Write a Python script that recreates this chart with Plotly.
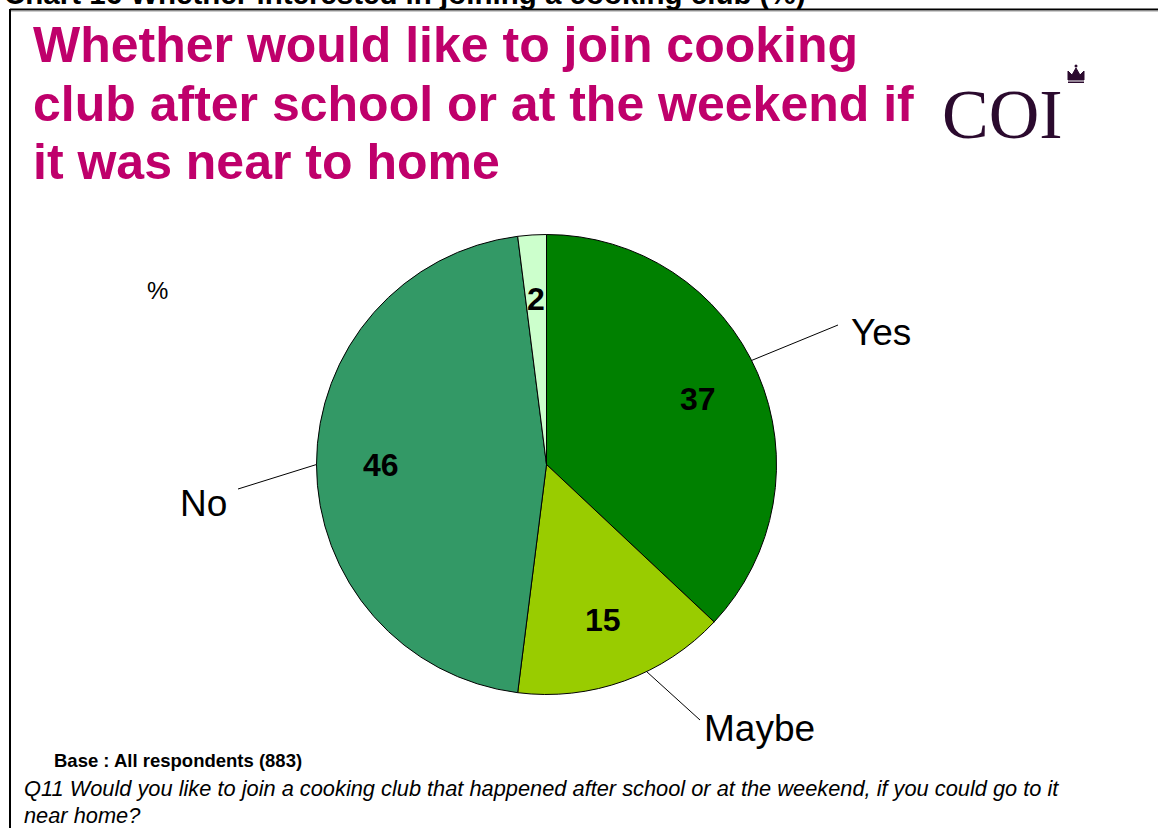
import math
import plotly.graph_objects as go

# Survey answers (percent of all respondents)
answers = ["Yes", "Maybe", "No", "Don't know"]
shares = [37, 15, 46, 2]
slice_colors = ["#008000", "#99CC00", "#339966", "#CCFFCC"]
outside_labels = ["Yes", "Maybe", "No", None]

header = "Chart 16 Whether interested in joining a cooking club (%)"
title_lines = [
    "Whether would like to join cooking",
    "club after school or at the weekend if",
    "it was near to home",
]
base_note = "Base : All respondents (883)"
question_lines = [
    "Q11 Would you like to join a cooking club that happened after school "
    "or at the weekend, if you could go to it",
    "near home?",
]

W, H = 1158, 828
CX, CY, R = 546.5, 464.5, 230.0  # pie centre / radius in pixels


def px(x):
    return x / W


def py(y):
    return 1 - y / H


def polar(frac_angle, r):
    """Pixel point at a clockwise-from-top fraction of the circle."""
    a = 2 * math.pi * frac_angle
    return CX + r * math.sin(a), CY - r * math.cos(a)


FONT = "Liberation Sans, Arial"

fig = go.Figure()
fig.add_trace(go.Pie(
    labels=answers,
    values=shares,
    sort=False,
    direction="clockwise",
    rotation=0,
    marker=dict(colors=slice_colors, line=dict(color="#000000", width=1)),
    textinfo="none",
    hoverinfo="label+value",
    showlegend=False,
    domain=dict(x=[px(CX - R), px(CX + R)], y=[py(CY + R), py(CY - R)]),
))

annotations = []
shapes = []

# leader-line end (pixel), label anchor (pixel), anchor side, angular nudge (degrees)
label_layout = {
    "Yes": (838, 325, 849, 332, "left", -3.5),
    "Maybe": (700, 720, 702, 728, "left", -6.0),
    "No": (238, 489, 229, 503, "right", 0.0),
}

total = sum(shares)
cum = 0
for name, val, lab in zip(answers, shares, outside_labels):
    mid = (cum + val / 2) / total
    cum += val
    tx, ty = polar(mid, 0.72 * R)
    annotations.append(dict(
        x=px(tx), y=py(ty), xref="paper", yref="paper", text=f"<b>{val}</b>",
        showarrow=False, font=dict(family=FONT, size=32, color="#000000"),
        xanchor="center", yanchor="middle"))
    if lab:
        lx, ly, tx2, ty2, anc, nudge = label_layout[lab]
        ex, ey = polar(mid + nudge / 360.0, R)
        shapes.append(dict(type="line", xref="paper", yref="paper",
                           x0=px(ex), y0=py(ey), x1=px(lx), y1=py(ly),
                           line=dict(color="#000000", width=1)))
        annotations.append(dict(
            x=px(tx2), y=py(ty2), xref="paper", yref="paper", text=lab,
            showarrow=False, font=dict(family=FONT, size=37, color="#000000"),
            xanchor=anc, yanchor="middle"))

# header line running off the top of the page
annotations.append(dict(
    x=px(2), y=py(12.5), xref="paper", yref="paper", text=f"<b>{header}</b>",
    showarrow=False, font=dict(family=FONT, size=29.5, color="#000000"),
    xanchor="left", yanchor="bottom"))

# main title
for i, line in enumerate(title_lines):
    annotations.append(dict(
        x=px(31), y=py(45 + i * 58.5), xref="paper", yref="paper", text=f"<b>{line}</b>",
        showarrow=False, font=dict(family=FONT, size=50, color="#BF006B"),
        xanchor="left", yanchor="middle"))

# COI logo word
annotations.append(dict(
    x=px(1002), y=py(115), xref="paper", yref="paper", text="COI",
    showarrow=False, font=dict(family="Liberation Serif, Times New Roman", size=70, color="#2B0A2E"),
    xanchor="center", yanchor="middle"))

# small crown above the logo
crown_pts = [(1068, 80), (1068, 71), (1072, 75), (1076, 68), (1080, 75),
             (1084, 71), (1084, 80)]
crown_path = "M " + " L ".join(f"{px(x):.6f},{py(y):.6f}" for x, y in crown_pts) + " Z"
shapes.append(dict(type="path", xref="paper", yref="paper", path=crown_path,
                   fillcolor="#2B0A2E", line=dict(color="#2B0A2E", width=1)))
shapes.append(dict(type="rect", xref="paper", yref="paper",
                   x0=px(1068), y0=py(83), x1=px(1084), y1=py(81.5),
                   fillcolor="#2B0A2E", line=dict(width=0)))
shapes.append(dict(type="circle", xref="paper", yref="paper",
                   x0=px(1074.5), y0=py(67.5), x1=px(1077.5), y1=py(64.5),
                   fillcolor="#2B0A2E", line=dict(width=0)))

# percent marker
annotations.append(dict(
    x=px(157), y=py(290), xref="paper", yref="paper", text="%",
    showarrow=False, font=dict(family=FONT, size=24, color="#000000"),
    xanchor="center", yanchor="middle"))

# footnotes
annotations.append(dict(
    x=px(52), y=py(760), xref="paper", yref="paper", text=f"<b>{base_note}</b>",
    showarrow=False, font=dict(family=FONT, size=18.5, color="#000000"),
    xanchor="left", yanchor="middle"))
for i, line in enumerate(question_lines):
    annotations.append(dict(
        x=px(22), y=py(788 + i * 27), xref="paper", yref="paper", text=f"<i>{line}</i>",
        showarrow=False, font=dict(family=FONT, size=21.8, color="#000000"),
        xanchor="left", yanchor="middle"))

# frame around the chart area
shapes.append(dict(type="line", xref="paper", yref="paper",
                   x0=px(10), y0=py(9.5), x1=1.0, y1=py(9.5),
                   line=dict(color="#000000", width=2)))
shapes.append(dict(type="line", xref="paper", yref="paper",
                   x0=px(10), y0=py(11), x1=1.0, y1=py(11),
                   line=dict(color="#9A9A9A", width=1)))
shapes.append(dict(type="line", xref="paper", yref="paper",
                   x0=px(10), y0=py(9), x1=px(10), y1=0,
                   line=dict(color="#000000", width=2)))

fig.update_layout(
    width=W, height=H,
    margin=dict(l=0, r=0, t=0, b=0),
    paper_bgcolor="#FFFFFF",
    plot_bgcolor="#FFFFFF",
    annotations=annotations,
    shapes=shapes,
)

fig.write_html("out.html")
